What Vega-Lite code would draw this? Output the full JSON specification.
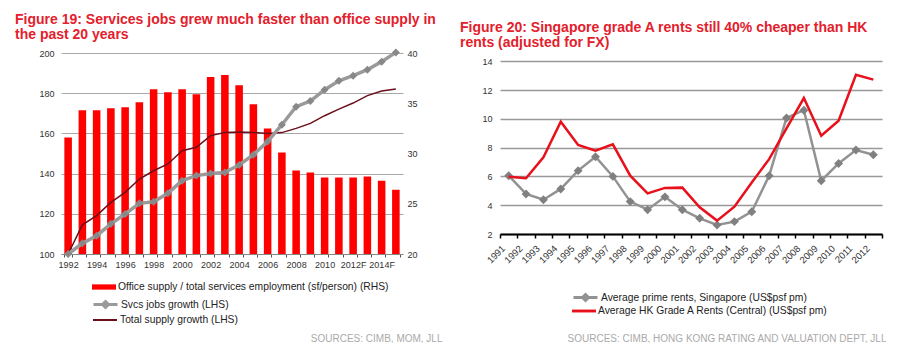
{
  "$schema": "https://vega.github.io/schema/vega-lite/v6.json",
  "background": "white",
  "padding": {"left": 15, "top": 13, "right": 0, "bottom": 0},
  "spacing": 18,
  "config": {
    "view": {"stroke": null},
    "font": "Liberation Sans",
    "axis": {"labelFont": "Liberation Sans", "labelColor": "#333333", "labelFontSize": 9, "titleFont": "Liberation Sans", "labelOverlap": false},
    "legend": {"labelFont": "Liberation Sans", "labelFontSize": 10.3, "labelColor": "#222222", "padding": 0, "labelOffset": 2, "title": null, "labelLimit": 500},
    "title": {"font": "Liberation Sans", "fontSize": 14, "fontWeight": "bold", "color": "#e3202b", "anchor": "start", "frame": "group", "lineHeight": 15, "offset": 3}
  },
  "datasets": {
    "left": [
      {"year": "1992", "office": 31.6, "svcs": 100, "supply": 100},
      {"year": "1993", "office": 34.3, "svcs": 105.3, "supply": 114.5},
      {"year": "1994", "office": 34.3, "svcs": 109.1, "supply": 119.1},
      {"year": "1995", "office": 34.5, "svcs": 115, "supply": 125.7},
      {"year": "1996", "office": 34.6, "svcs": 119.9, "supply": 130.7},
      {"year": "1997", "office": 35.1, "svcs": 125.2, "supply": 137.3},
      {"year": "1998", "office": 36.4, "svcs": 126, "supply": 141.4},
      {"year": "1999", "office": 36.1, "svcs": 130.2, "supply": 144.8},
      {"year": "2000", "office": 36.4, "svcs": 136.5, "supply": 151.4},
      {"year": "2001", "office": 35.9, "svcs": 139, "supply": 153.1},
      {"year": "2002", "office": 37.6, "svcs": 140.1, "supply": 158.9},
      {"year": "2003", "office": 37.8, "svcs": 140.6, "supply": 160.5},
      {"year": "2004", "office": 36.8, "svcs": 144.3, "supply": 160.7},
      {"year": "2005", "office": 34.9, "svcs": 149.4, "supply": 160.5},
      {"year": "2006", "office": 32.5, "svcs": 156, "supply": 160},
      {"year": "2007", "office": 30.1, "svcs": 164.3, "supply": 160.4},
      {"year": "2008", "office": 28.3, "svcs": 173.3, "supply": 162.5},
      {"year": "2009", "office": 28.1, "svcs": 176.1, "supply": 165},
      {"year": "2010", "office": 27.6, "svcs": 181.7, "supply": 168.8},
      {"year": "2011", "office": 27.6, "svcs": 186.2, "supply": 172.1},
      {"year": "2012F", "office": 27.6, "svcs": 188.7, "supply": 175.1},
      {"year": "2013F", "office": 27.7, "svcs": 191.7, "supply": 178.8},
      {"year": "2014F", "office": 27.3, "svcs": 195.7, "supply": 181.1},
      {"year": "2015F", "office": 26.4, "svcs": 200.3, "supply": 182.1}
    ],
    "right": [
      {"year": "1991", "sg": 6.05, "hk": 5.98},
      {"year": "1992", "sg": 4.78, "hk": 5.87},
      {"year": "1993", "sg": 4.38, "hk": 7.33},
      {"year": "1994", "sg": 5.13, "hk": 9.8},
      {"year": "1995", "sg": 6.4, "hk": 8.18},
      {"year": "1996", "sg": 7.37, "hk": 7.79},
      {"year": "1997", "sg": 6.0, "hk": 8.23},
      {"year": "1998", "sg": 4.25, "hk": 6.05},
      {"year": "1999", "sg": 3.69, "hk": 4.82},
      {"year": "2000", "sg": 4.58, "hk": 5.2},
      {"year": "2001", "sg": 3.69, "hk": 5.22},
      {"year": "2002", "sg": 3.09, "hk": 3.85},
      {"year": "2003", "sg": 2.63, "hk": 2.93},
      {"year": "2004", "sg": 2.86, "hk": 3.9},
      {"year": "2005", "sg": 3.55, "hk": 5.58},
      {"year": "2006", "sg": 6.05, "hk": 7.2},
      {"year": "2007", "sg": 10.06, "hk": 9.34},
      {"year": "2008", "sg": 10.6, "hk": 11.44},
      {"year": "2009", "sg": 5.7, "hk": 8.83},
      {"year": "2010", "sg": 6.9, "hk": 9.87},
      {"year": "2011", "sg": 7.83, "hk": 13.06},
      {"year": "2012", "sg": 7.5, "hk": 12.72}
    ]
  },
  "hconcat": [
    {
      "width": 342,
      "height": 201,
      "data": {"name": "left"},
      "title": {"text": ["Figure 19: Services jobs grew much faster than office supply in", "the past 20 years"], "dx": -46},
      "layer": [
        {
          "mark": {"type": "bar", "clip": true},
          "encoding": {
            "x": {"field": "year", "type": "ordinal", "sort": null,
              "scale": {"type": "band", "paddingInner": 0.47, "paddingOuter": 0.235},
              "axis": {"title": "SOURCES: CIMB, MOM, JLL", "titleX": 381, "titleY": 84, "titleAlign": "right", "titleBaseline": "middle", "titleFontSize": 10, "titleFontWeight": "normal", "titleColor": "#aaaaaa",
                "labelAngle": 0, "labelExpr": "parseInt(datum.value) % 2 == 0 ? datum.value : ''", "tickBand": "extent", "tickSize": 3, "tickColor": "#555555", "domainColor": "#888888", "labelPadding": 3}},
            "y": {"field": "office", "type": "quantitative", "scale": {"domain": [20, 40], "nice": false, "zero": false},
              "axis": {"orient": "right", "values": [20, 25, 30, 35, 40], "tickCount": 10, "grid": false, "domain": false, "ticks": false, "labelPadding": 4, "title": null}},
            "fill": {"datum": "Office supply / total services employment (sf/person) (RHS)", "scale": {"range": ["#ff0000"]},
              "legend": {"orient": "none", "legendX": 31, "legendY": 222, "symbolType": "M-1,-0.22H1V0.22H-1Z", "symbolSize": 576, "symbolStrokeWidth": 0}}
          }
        },
        {
          "mark": {"type": "line", "strokeWidth": 1.5},
          "encoding": {
            "x": {"field": "year", "type": "ordinal", "sort": null, "bandPosition": 0.5},
            "y": {"field": "supply", "type": "quantitative", "scale": {"domain": [100, 200], "nice": false, "zero": false}, "axis": null},
            "stroke": {"datum": "Total supply growth (LHS)", "scale": {"range": ["#6b0f1a"]},
              "legend": {"orient": "none", "legendX": 31, "legendY": 254, "symbolType": "M-1,0H1", "symbolSize": 576, "symbolStrokeWidth": 2}}
          }
        },
        {
          "mark": {"type": "line", "strokeWidth": 3.5},
          "encoding": {
            "x": {"field": "year", "type": "ordinal", "sort": null, "bandPosition": 0.5},
            "y": {"field": "svcs", "type": "quantitative", "scale": {"domain": [100, 200], "nice": false, "zero": false},
              "axis": {"orient": "left", "values": [100, 120, 140, 160, 180, 200], "tickCount": 10, "grid": true, "gridColor": "#a8a8a8", "gridWidth": 1, "domain": false, "ticks": false, "labelPadding": 7, "title": null}},
            "stroke": {"datum": "Svcs jobs growth (LHS)", "scale": {"range": ["#9a9a9a"]},
              "legend": {"orient": "none", "legendX": 31, "legendY": 238, "symbolType": "M-1,0H1M0,-0.25L0.25,0L0,0.25L-0.25,0Z", "symbolSize": 576, "symbolStrokeWidth": 3, "symbolFillColor": "#888888"}}
          }
        },
        {
          "mark": {"type": "point", "shape": "diamond", "filled": true, "size": 64, "color": "#888888", "opacity": 1},
          "encoding": {
            "x": {"field": "year", "type": "ordinal", "sort": null, "bandPosition": 0.5},
            "y": {"field": "svcs", "type": "quantitative", "scale": {"domain": [100, 200], "nice": false, "zero": false}, "axis": null}
          }
        }
      ],
      "resolve": {"scale": {"y": "independent", "stroke": "independent"}}
    },
    {
      "width": 382,
      "height": 181,
      "data": {"name": "right"},
      "title": {"text": ["Figure 20: Singapore grade A rents still 40% cheaper than HK", "rents (adjusted for FX)"], "dx": -40},
      "layer": [
        {
          "mark": {"type": "line", "strokeWidth": 2.5},
          "encoding": {
            "x": {"field": "year", "type": "ordinal", "sort": null, "bandPosition": 0.5,
              "scale": {"type": "band", "paddingInner": 0, "paddingOuter": 0},
              "axis": {"title": "SOURCES: CIMB, HONG KONG RATING AND VALUATION DEPT, JLL", "titleX": 386, "titleY": 104, "titleAlign": "right", "titleBaseline": "middle", "titleFontSize": 10, "titleFontWeight": "normal", "titleColor": "#aaaaaa",
                "labelAngle": -45, "labelOffset": -9, "labelFontSize": 9.5, "tickBand": "extent", "tickSize": 4, "tickWidth": 1.5, "tickColor": "#000000", "domainColor": "#000000", "domainWidth": 2, "labelPadding": 5}},
            "y": {"field": "sg", "type": "quantitative", "scale": {"domain": [2, 14.57], "nice": false, "zero": false},
              "axis": {"values": [2, 4, 6, 8, 10, 12, 14], "tickCount": 12, "grid": true, "gridColor": "#999999", "gridWidth": 1.5, "domain": false, "ticks": false, "labelPadding": 8, "title": null}},
            "stroke": {"datum": "Average prime rents, Singapore (US$psf pm)", "scale": {"range": ["#929292"]},
              "legend": {"orient": "none", "legendX": 72, "legendY": 231, "symbolType": "M-1,0H1M0,-0.25L0.25,0L0,0.25L-0.25,0Z", "symbolSize": 576, "symbolStrokeWidth": 3, "symbolFillColor": "#888888"}}
          }
        },
        {
          "mark": {"type": "point", "shape": "diamond", "filled": true, "size": 80, "color": "#808080", "opacity": 1},
          "encoding": {
            "x": {"field": "year", "type": "ordinal", "sort": null, "bandPosition": 0.5},
            "y": {"field": "sg", "type": "quantitative"}
          }
        },
        {
          "mark": {"type": "line", "strokeWidth": 2.5},
          "encoding": {
            "x": {"field": "year", "type": "ordinal", "sort": null, "bandPosition": 0.5},
            "y": {"field": "hk", "type": "quantitative"},
            "stroke": {"datum": "Average HK Grade A Rents (Central) (US$psf pm)", "scale": {"range": ["#e8101a"]},
              "legend": {"orient": "none", "legendX": 72, "legendY": 246, "symbolType": "M-1,-0.12H1V0.12H-1Z", "symbolSize": 576, "symbolStrokeWidth": 0, "symbolFillColor": "#e8101a"}}
          }
        }
      ],
      "resolve": {"scale": {"stroke": "independent"}}
    }
  ]
}
